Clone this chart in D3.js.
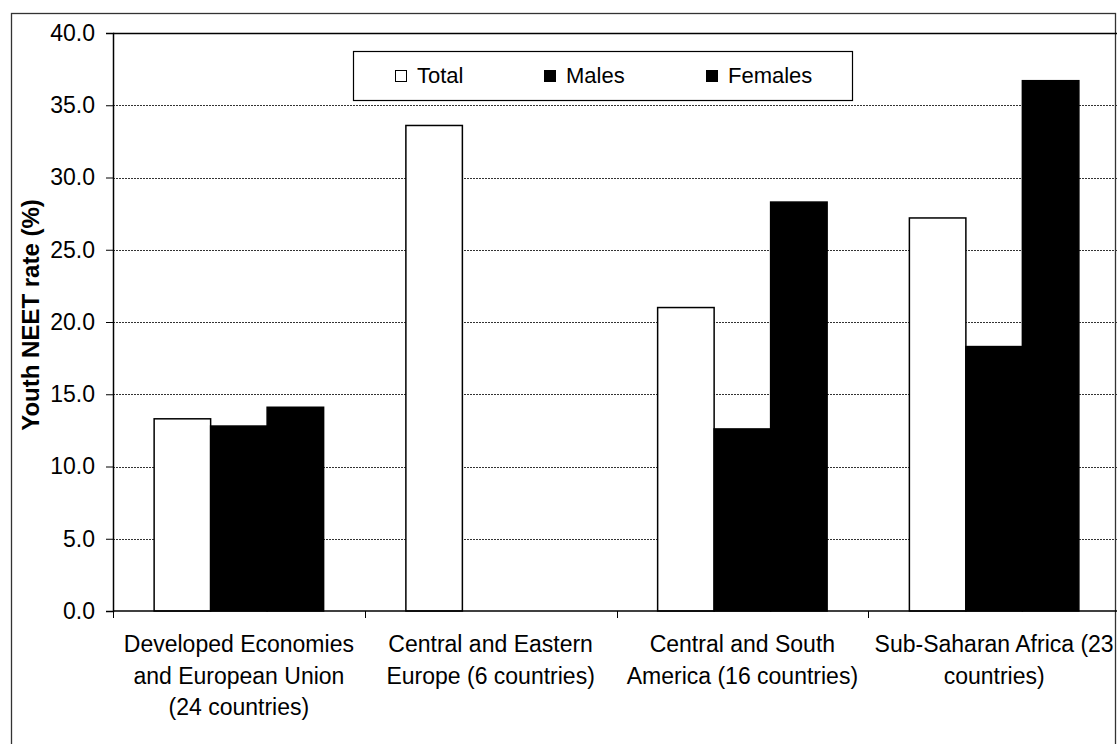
<!DOCTYPE html>
<html>
<head>
<meta charset="utf-8">
<script src="https://cdn.jsdelivr.net/npm/d3@7"></script>
<style>
  html, body { margin: 0; padding: 0; background: #fff; }
  svg { display: block; }
  text { font-family: "Liberation Sans", Arial, sans-serif; fill: #000; }
</style>
</head>
<body>
<svg id="chart" width="1117" height="744"></svg>
<script>
// ---- data ----
const categories = [
  ["Developed Economies", "and European Union", "(24 countries)"],
  ["Central and Eastern", "Europe (6 countries)"],
  ["Central and South", "America (16 countries)"],
  ["Sub-Saharan Africa (23", "countries)"]
];
const seriesNames = ["Total", "Males", "Females"];
const totalValues   = [13.3, 33.6, 21.0, 27.2];
const malesValues   = [12.8, null, 12.6, 18.3];
const femalesValues = [14.1, null, 28.3, 36.7];
const yTickValues = [0, 5, 10, 15, 20, 25, 30, 35, 40];
const yAxisTitle = "Youth NEET rate (%)";

// ---- layout ----
const svg = d3.select("#chart");
const W = 1117, H = 744;
const plot = { left: 113, top: 33, right: 1120, bottom: 611 };
const fontSize = 23;

// outer border
svg.append("rect")
  .attr("x", 11.5).attr("y", 13.5)
  .attr("width", 1104).attr("height", 740)
  .attr("fill", "none").attr("stroke", "#333").attr("stroke-width", 1.3);

const catKeys = categories.map((c, i) => i);
const x0 = d3.scaleBand().domain(catKeys).range([plot.left, plot.right]).paddingInner(0).paddingOuter(0);
const x1 = d3.scaleBand().domain(seriesNames).range([0, x0.bandwidth()]).paddingInner(0).paddingOuter(0.728);
const y = d3.scaleLinear().domain([0, 40]).range([plot.bottom, plot.top]);

const seriesValues = { "Total": totalValues, "Males": malesValues, "Females": femalesValues };
const fills = { "Total": "#fff", "Males": "#000", "Females": "#000" };

// gridlines
svg.append("g").selectAll("line")
  .data(yTickValues.filter(v => v > 0 && v < 40))
  .join("line")
  .attr("x1", plot.left).attr("x2", W)
  .attr("y1", d => Math.round(y(d)) + 0.5).attr("y2", d => Math.round(y(d)) + 0.5)
  .attr("stroke", "#333").attr("stroke-width", 1).attr("stroke-dasharray", "2,1");

// top border of plot
svg.append("line")
  .attr("x1", plot.left).attr("x2", W)
  .attr("y1", Math.round(y(40)) + 0.5).attr("y2", Math.round(y(40)) + 0.5)
  .attr("stroke", "#000").attr("stroke-width", 1.5);

// bars
const barData = [];
catKeys.forEach(ci => {
  seriesNames.forEach(s => {
    const v = seriesValues[s][ci];
    if (v !== null && v !== undefined) barData.push({ ci, s, v });
  });
});
svg.append("g").selectAll("rect")
  .data(barData)
  .join("rect")
  .attr("x", d => x0(d.ci) + x1(d.s))
  .attr("y", d => y(d.v))
  .attr("width", x1.bandwidth())
  .attr("height", d => y(0) - y(d.v))
  .attr("fill", d => fills[d.s])
  .attr("stroke", "#000")
  .attr("stroke-width", 1.5);

// y axis
const yAxis = d3.axisLeft(y).tickValues(yTickValues).tickFormat(d3.format(".1f")).tickSize(7).tickPadding(11);
const gy = svg.append("g").attr("transform", `translate(${plot.left},0)`).call(yAxis);
gy.select(".domain").attr("stroke", "#000").attr("stroke-width", 1.5);
gy.selectAll(".tick line").attr("stroke", "#000").attr("stroke-width", 1);
gy.selectAll(".tick text").style("font-size", fontSize + "px").attr("font-family", null);

// x axis line and boundary ticks
svg.append("line")
  .attr("x1", plot.left).attr("x2", W)
  .attr("y1", y(0)).attr("y2", y(0))
  .attr("stroke", "#000").attr("stroke-width", 1.5);
const boundaries = catKeys.map(ci => x0(ci)).concat([x0(catKeys[catKeys.length - 1]) + x0.bandwidth()]);
svg.append("g").selectAll("line")
  .data(boundaries)
  .join("line")
  .attr("x1", d => Math.round(d) + 0.5).attr("x2", d => Math.round(d) + 0.5)
  .attr("y1", y(0)).attr("y2", y(0) + 7)
  .attr("stroke", "#000").attr("stroke-width", 1);

// category labels
const catG = svg.append("g");
catKeys.forEach(ci => {
  const cx = x0(ci) + x0.bandwidth() / 2;
  const t = catG.append("text")
    .attr("text-anchor", "middle")
    .style("font-size", fontSize + "px");
  categories[ci].forEach((line, li) => {
    t.append("tspan").attr("x", cx).attr("y", 652 + li * 31.5).text(line);
  });
});

// y axis title
svg.append("text")
  .attr("transform", `translate(39, 315) rotate(-90)`)
  .attr("text-anchor", "middle")
  .style("font-size", "24px")
  .style("font-weight", "bold")
  .text(yAxisTitle);

// legend
const legend = svg.append("g");
legend.append("rect")
  .attr("x", 353.5).attr("y", 51.5).attr("width", 499).attr("height", 49)
  .attr("fill", "#fff").attr("stroke", "#000").attr("stroke-width", 1.2);
const legendX = [395, 544, 706];
seriesNames.forEach((s, i) => {
  legend.append("rect")
    .attr("x", legendX[i] + 0.5).attr("y", 70.5).attr("width", 11).attr("height", 11)
    .attr("fill", fills[s]).attr("stroke", "#000").attr("stroke-width", 1);
  legend.append("text")
    .attr("x", legendX[i] + 22).attr("y", 83)
    .style("font-size", "22px")
    .text(s);
});
</script>
</body>
</html>
